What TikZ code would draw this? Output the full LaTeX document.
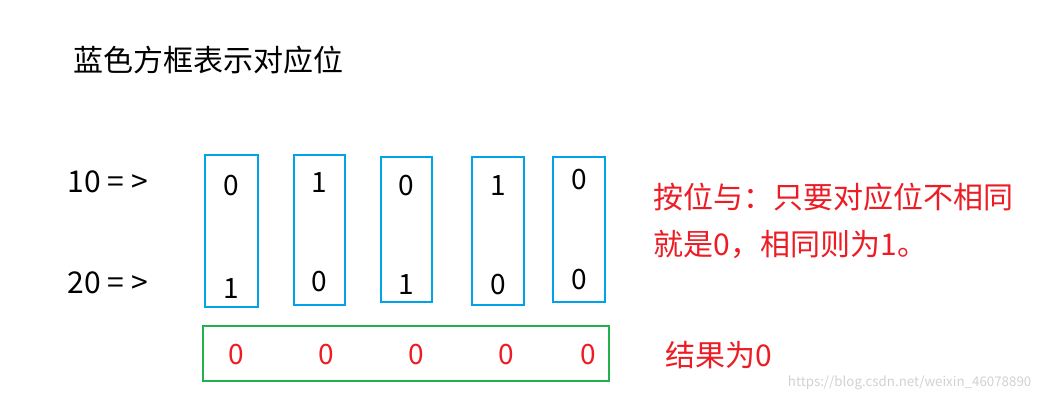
\documentclass[tikz,border=0pt]{standalone}
\usepackage{fontspec}
\setmainfont{Noto Sans CJK SC}
\definecolor{bbox}{RGB}{0,162,232}
\definecolor{gbox}{RGB}{34,177,76}
\definecolor{rtext}{RGB}{237,28,36}
\begin{document}
\begin{tikzpicture}[x=0.75pt,y=-0.75pt,
  bit/.style={font=\fontsize{21}{24}\selectfont},
  lab/.style={font=\fontsize{22.5}{27}\selectfont,anchor=west},
  bluebox/.style={draw=bbox,line width=2pt},
  greenbox/.style={draw=gbox,line width=2pt}]
\useasboundingbox (0,0) rectangle (1041,403);
\node[lab] (title) at (69,60) {蓝色方框表示对应位};
\node[lab] (l10) at (63,182) {10 = >};
\node[lab] (l20) at (63,283) {20 = >};
\foreach \i/\xa/\ya/\xb/\yb/\t/\b/\ty/\by in
 {1/205/155/258/307/0/1/186/289, 2/294/155/345/305/1/0/183/282,
  3/381/157/432/302/0/1/186/285, 4/472/157/524/305/1/0/186/285,
  5/553/157/605/302/0/0/180/280}{
  \draw[bluebox] (\xa,\ya) rectangle (\xb,\yb);
  \node[bit] (t\i) at ({(\xa+\xb)/2},\ty) {\t};
  \node[bit] (b\i) at ({(\xa+\xb)/2},\by) {\b};
}
\draw[greenbox] (203,326) rectangle (609,381);
\foreach \i/\x in {1/236,2/326,3/416,4/506,5/588}
  \node[bit,text=rtext] (r\i) at (\x,355) {0};
\node[lab,text=rtext] (d1) at (649,197) {按位与：只要对应位不相同};
\node[lab,text=rtext] (d2) at (649,244) {就是0，相同则为1。};
\node[lab,text=rtext] (res) at (661,355) {结果为0};
\node[anchor=east,text=black!18,font=\fontsize{10}{12}\selectfont] (wm) at (1036,383) {https://blog.csdn.net/weixin\_46078890};
\end{tikzpicture}
\end{document}
